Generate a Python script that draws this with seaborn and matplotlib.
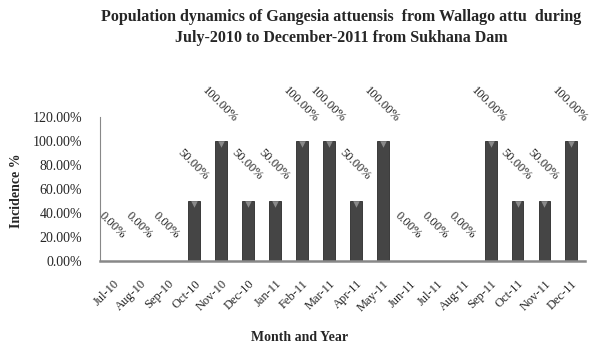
import matplotlib
matplotlib.use("Agg")
import matplotlib.pyplot as plt
import seaborn as sns
import pandas as pd

sns.set_style("white")
plt.rcParams["font.family"] = ["Liberation Serif", "DejaVu Serif"]

months = ["Jul-10", "Aug-10", "Sep-10", "Oct-10", "Nov-10", "Dec-10",
          "Jan-11", "Feb-11", "Mar-11", "Apr-11", "May-11", "Jun-11",
          "Jul-11", "Aug-11", "Sep-11", "Oct-11", "Nov-11", "Dec-11"]
incidence = [0, 0, 0, 50, 100, 50, 50, 100, 100, 50, 100, 0, 0, 0, 100, 50, 50, 100]

df = pd.DataFrame({"month": months, "incidence": incidence})

fig = plt.figure(figsize=(5.89, 3.47), dpi=100)
ax = fig.add_axes([0.170, 0.248, 0.823, 0.415])

sns.barplot(data=df, x="month", y="incidence", color="#454545", width=0.44,
            edgecolor="#2a2a2a", linewidth=0.6, ax=ax, saturation=1)

# lighter bevel triangle on top of each bar
tops = df[df["incidence"] > 0]
ax.scatter(tops.index, tops["incidence"] - 2.2, marker="v", s=22,
           color="#8a8a8a", linewidths=0, zorder=3)

# value labels, rotated like the original
for i, v in enumerate(incidence):
    ax.text(i - 0.05, v + 30, f"{v:.2f}%", rotation=-45, ha="center", va="center",
            fontsize=9, clip_on=False)

ax.set_ylim(0, 120)
ax.set_xlim(-0.5, len(months) - 0.5)
ax.set_yticks(range(0, 121, 20))
ax.set_yticklabels([f"{t:.2f}%" for t in range(0, 121, 20)], fontsize=10)
ax.set_xticks(range(len(months)))
ax.set_xticklabels(months, rotation=45, ha="right", rotation_mode="anchor", fontsize=9)
ax.tick_params(axis="y", length=3, color="#888888", pad=10)
ax.tick_params(axis="x", length=0, pad=12)

sns.despine(ax=ax)
ax.spines["left"].set_color("#888888")
ax.spines["left"].set_linewidth(0.8)
ax.spines["bottom"].set_color("#888888")
ax.spines["bottom"].set_linewidth(1.8)

ax.set_xlabel("Month and Year", fontsize=10, fontweight="bold", va="center")
ax.xaxis.set_label_coords(0.412, -0.53)
ax.set_ylabel("Incidence %", fontsize=10, fontweight="bold", va="center")
ax.yaxis.set_label_coords(-0.172, 0.49)

fig.text(0.579, 0.951, "Population dynamics of Gangesia attuensis  from Wallago attu  during",
         ha="center", va="center", fontsize=11.5, fontweight="bold")
fig.text(0.579, 0.890, "July-2010 to December-2011 from Sukhana Dam",
         ha="center", va="center", fontsize=11.5, fontweight="bold")

fig.savefig("out.png", dpi=100)
